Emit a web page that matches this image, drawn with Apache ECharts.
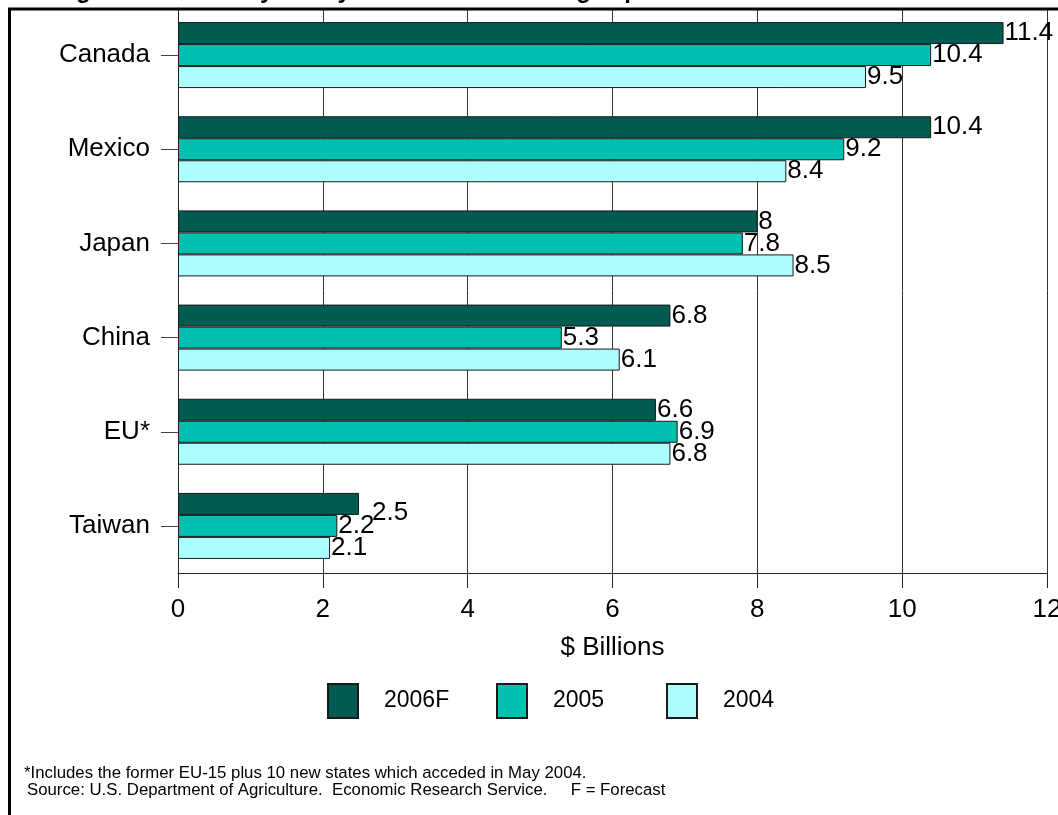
<!DOCTYPE html>
<html>
<head>
<meta charset="utf-8">
<script src="https://cdn.jsdelivr.net/npm/echarts@6/dist/echarts.min.js"></script>
<style>
html,body{margin:0;padding:0;background:#fff;}
#chart{width:1058px;height:815px;}
</style>
</head>
<body>
<div id="chart"></div>
<script>
const categories = ['Canada', 'Mexico', 'Japan', 'China', 'EU*', 'Taiwan'];
const seriesNames = ['2006F', '2005', '2004'];
const values2006F = [11.4, 10.4, 8, 6.8, 6.6, 2.5];
const values2005 = [10.4, 9.2, 7.8, 5.3, 6.9, 2.2];
const values2004 = [9.5, 8.4, 8.5, 6.1, 6.8, 2.1];
const xTicks = [0, 2, 4, 6, 8, 10, 12];
const titleText = 'Six largest markets buy nearly two-thirds of U.S. ag exports';
const footnote1 = '*Includes the former EU-15 plus 10 new states which acceded in May 2004.';
const footnote2 = 'Source: U.S. Department of Agriculture.  Economic Research Service.     F = Forecast';

const colors = ['#015B50', '#00C0AF', '#ADFFFF'];
const FONT = 'Liberation Sans, Arial, sans-serif';
const legendLefts = [327, 496, 666];

const chart = echarts.init(document.getElementById('chart'), null, {renderer: 'canvas'});

const allValues = [values2006F, values2005, values2004];
const series = seriesNames.map((name, si) => ({
  name: name,
  type: 'bar',
  barWidth: 22,
  barGap: '0%',
  data: allValues[si].map((v, ci) => {
    const item = {value: v};
    if (si === 0 && categories[ci] === 'Taiwan') {
      item.label = {offset: [12, 9]};
    }
    return item;
  }),
  itemStyle: {color: colors[si], borderColor: '#1a1a1a', borderWidth: 1},
  label: {
    show: true, position: 'right', distance: 1,
    color: '#000', fontFamily: FONT, fontSize: 26,
    formatter: p => String(p.value)
  },
  emphasis: {disabled: true},
  animation: false
}));

const legends = seriesNames.map((name, i) => ({
  left: legendLefts[i], top: 683, padding: 0,
  itemWidth: 30, itemHeight: 34, icon: 'rect',
  data: [name],
  selectedMode: false,
  textStyle: {color: '#000', fontFamily: FONT, fontSize: 23, padding: [0, 0, 0, 21]}
}));

const option = {
  animation: false,
  grid: {left: 178, right: 11, top: 8, bottom: 242, containLabel: false, outerBoundsMode: 'none'},
  xAxis: {
    type: 'value', min: xTicks[0], max: xTicks[xTicks.length - 1], interval: 2,
    name: '$ Billions', nameLocation: 'middle', nameGap: 62,
    nameTextStyle: {color: '#000', fontFamily: FONT, fontSize: 26},
    axisLine: {show: true, lineStyle: {color: '#222', width: 1}},
    axisTick: {show: true, length: 15, lineStyle: {color: '#222'}},
    axisLabel: {color: '#000', fontFamily: FONT, fontSize: 26, margin: 24},
    splitLine: {show: true, lineStyle: {color: '#333', width: 1}}
  },
  yAxis: {
    type: 'category', data: categories, inverse: true,
    axisLine: {show: true, lineStyle: {color: '#222', width: 1}},
    axisTick: {show: true, alignWithLabel: true, length: 17, lineStyle: {color: '#444'}},
    axisLabel: {color: '#000', fontFamily: FONT, fontSize: 26, margin: 28}
  },
  legend: legends,
  graphic: [
    {type: 'text', silent: true,
     style: {text: titleText, x: 4, y: 3, verticalAlign: 'bottom', textVerticalAlign: 'bottom', font: 'bold 24px ' + FONT, fill: '#000'}},
    {type: 'rect', silent: true, z: 100,
     shape: {x: 9.5, y: 9, width: 1200, height: 1000},
     style: {fill: 'none', stroke: '#000', lineWidth: 3}},
    {type: 'text', silent: true,
     style: {text: footnote1, x: 24, y: 773, verticalAlign: 'middle', textVerticalAlign: 'middle', font: '16.8px ' + FONT, fill: '#000'}},
    {type: 'text', silent: true,
     style: {text: footnote2, x: 27, y: 790, verticalAlign: 'middle', textVerticalAlign: 'middle', font: '16.8px ' + FONT, fill: '#000'}}
  ],
  series: series
};
chart.setOption(option);
</script>
</body>
</html>
